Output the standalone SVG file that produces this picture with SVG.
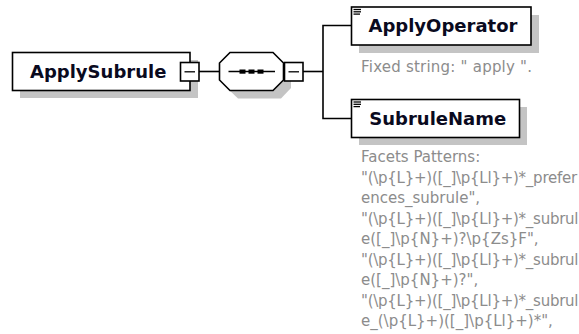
<svg xmlns="http://www.w3.org/2000/svg" width="579" height="334" viewBox="0 0 579 334">
<style>
.bg{fill:#fff}
.sh{fill:#c4c4c4}
.box{fill:#fff;stroke:#000;stroke-width:1.6}
.title{font-family:"DejaVu Sans",Verdana,sans-serif;font-weight:bold;font-size:18px;fill:#0a0a1e}
.desc{font-family:"DejaVu Sans",Verdana,sans-serif;font-size:15px;fill:#8c8c8c}
.pat{letter-spacing:-0.25px}
.ln{fill:none;stroke:#000;stroke-width:1.6}
.ic{stroke:#000;stroke-width:1.3}
</style>
<rect class="bg" width="579" height="334"/>
<g id="connectors">
<line class="ln" x1="199" y1="71.5" x2="219" y2="71.5"/>
<line class="ln" x1="303" y1="71.5" x2="323" y2="71.5"/>
<polyline class="ln" points="351,25.5 323,25.5 323,118.5 351,118.5"/>
</g>
<g id="ApplySubrule">
<rect class="sh" x="20" y="60" width="178" height="38"/>
<rect class="box" x="12.5" y="52.5" width="177.5" height="38"/>
<text class="title" x="30" y="78">ApplySubrule</text>
<rect class="box" x="180.5" y="62.5" width="18.5" height="18.5"/>
<line class="ic" x1="184.5" y1="71.8" x2="195" y2="71.8"/>
</g>
<g id="sequence">
<polygon class="sh" points="238,60.5 281,60.5 291,71 291,88 281,98.5 238,98.5 227,88 227,71"/>
<polygon class="box" points="230,52.5 273,52.5 283.5,63 283.5,80 273,90.5 230,90.5 219.5,80 219.5,63"/>
<line class="ic" x1="228.5" y1="71.5" x2="275" y2="71.5"/>
<rect x="239.5" y="69.5" width="6" height="4.2" fill="#000"/>
<rect x="248.5" y="69.5" width="6" height="4.2" fill="#000"/>
<rect x="257.5" y="69.5" width="6" height="4.2" fill="#000"/>
<rect class="box" x="284.5" y="62.5" width="18.5" height="18.5"/>
<line class="ic" x1="288.5" y1="71.8" x2="299" y2="71.8"/>
</g>
<g id="ApplyOperator">
<rect class="sh" x="359" y="15" width="180" height="38"/>
<rect class="box" x="351.5" y="7" width="179.5" height="38"/>
<line class="ic" x1="353.5" y1="9.5" x2="361" y2="9.5"/>
<line class="ic" x1="353.5" y1="11.8" x2="361" y2="11.8"/>
<line class="ic" x1="353.5" y1="14.1" x2="360" y2="14.1"/>
<text class="title" x="368.5" y="32.3">ApplyOperator</text>
<text class="desc" x="361" y="71.5" textLength="171" lengthAdjust="spacing">Fixed string: " apply ".</text>
</g>
<g id="SubruleName">
<rect class="sh" x="359" y="107" width="168" height="38"/>
<rect class="box" x="351.5" y="99.5" width="168" height="38"/>
<line class="ic" x1="353.5" y1="102" x2="361" y2="102"/>
<line class="ic" x1="353.5" y1="104.3" x2="361" y2="104.3"/>
<line class="ic" x1="353.5" y1="106.6" x2="360" y2="106.6"/>
<text class="title" x="369.3" y="124.8">SubruleName</text>
<text class="desc" x="361" y="162">Facets Patterns:</text>
<text class="desc pat" x="361" y="182.5">"(\p{L}+)([_]\p{Ll}+)*_prefer</text>
<text class="desc" x="361" y="203">ences_subrule",</text>
<text class="desc pat" x="361" y="223.5">"(\p{L}+)([_]\p{Ll}+)*_subrul</text>
<text class="desc" x="361" y="244">e([_]\p{N}+)?\p{Zs}F",</text>
<text class="desc pat" x="361" y="264.5">"(\p{L}+)([_]\p{Ll}+)*_subrul</text>
<text class="desc" x="361" y="285">e([_]\p{N}+)?",</text>
<text class="desc pat" x="361" y="305.5">"(\p{L}+)([_]\p{Ll}+)*_subrul</text>
<text class="desc" x="361" y="326">e_(\p{L}+)([_]\p{Ll}+)*",</text>
</g>
</svg>
